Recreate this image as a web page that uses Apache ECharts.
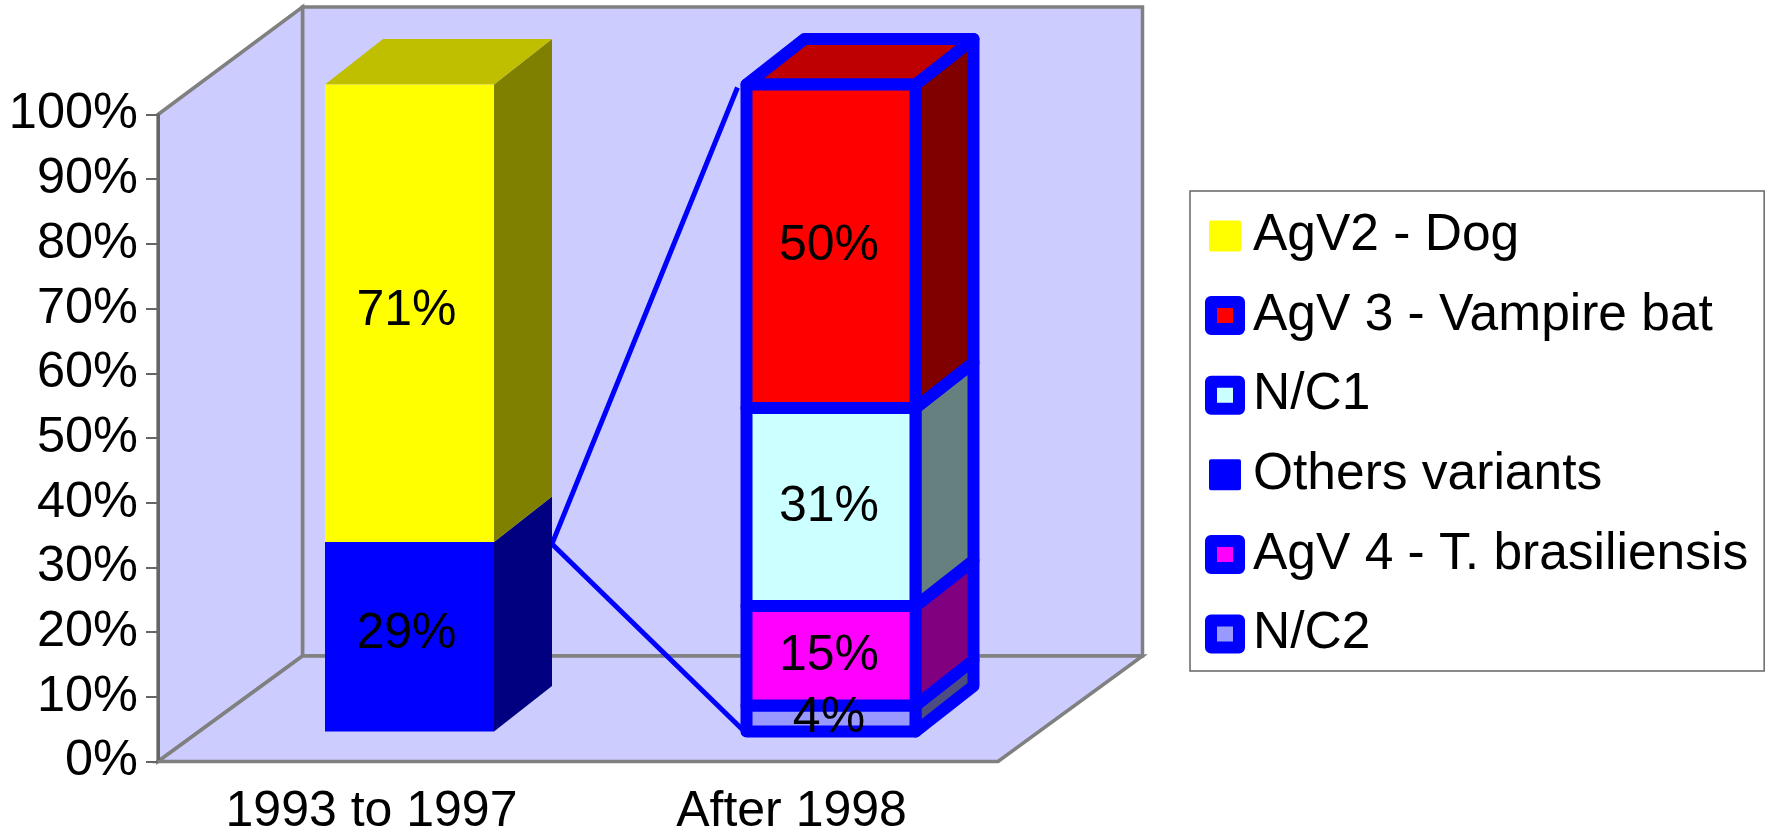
<!DOCTYPE html>
<html><head><meta charset="utf-8">
<style>html,body{margin:0;padding:0;background:#fff}#c{width:1770px;height:838px}</style>
<script src="https://cdn.jsdelivr.net/npm/echarts@6/dist/echarts.min.js"></script>
</head><body><div id="c"></div>
<script>
const categories = ['1993 to 1997', 'After 1998'];
const legendOrder = ['AgV2 - Dog', 'AgV 3 - Vampire bat', 'N/C1', 'Others variants', 'AgV 4 - T. brasiliensis', 'N/C2'];
const others = [29.3, 0];
const agv2 = [70.7, 0];
const nc2 = [0, 4];
const agv4 = [0, 15.4];
const nc1 = [0, 30.6];
const agv3 = [0, 50];

// drawn bottom-up
const stack = [
  {name:'Others variants', values:others, front:'#0000FF', side:'#000080', top:'#0000BF', border:null},
  {name:'N/C2', values:nc2, front:'#9999FF', side:'#4D4D80', top:'#7373BF', border:'#0000FF'},
  {name:'AgV 4 - T. brasiliensis', values:agv4, front:'#FF00FF', side:'#800080', top:'#BF00BF', border:'#0000FF'},
  {name:'N/C1', values:nc1, front:'#CCFFFF', side:'#668080', top:'#99BFBF', border:'#0000FF'},
  {name:'AgV2 - Dog', values:agv2, front:'#FFFF00', side:'#808000', top:'#BFBF00', border:null},
  {name:'AgV 3 - Vampire bat', values:agv3, front:'#FF0000', side:'#800000', top:'#BF0000', border:'#0000FF'}
];
const FONT = '"Liberation Sans", Arial, sans-serif';
const DEPTH = [144.5, -105.5];      // chart box depth
const BAR_DEPTH = [58, -45.5];      // bar depth
const BAR_W = 169, BAR_DX = [41.5, 43], BAR_DY = -30;
const LABEL_DX = [-3, -2];

function tops(cat){ let s=0; return stack.map(d=>{ s+=d.values[cat]; return s; }); }

const wallSeries = {
  type:'custom', name:'walls', coordinateSystem:'cartesian2d', z:1, silent:true, clip:false,
  data:[[0,0]],
  renderItem(params){
    const r = params.coordSys, l=r.x, t=r.y, b=r.y+r.height, rr=r.x+r.width, dx=DEPTH[0], dy=DEPTH[1];
    const st = {fill:'#CCCCFF', stroke:'#808080', lineWidth:3.5, lineJoin:'miter'};
    const poly = pts => ({type:'polygon', shape:{points:pts}, style:st});
    return {type:'group', children:[
      poly([[l+dx,t+dy-2],[rr+dx,t+dy-2],[rr+dx,b+dy],[l+dx,b+dy]]),
      poly([[l,t],[l+dx,t+dy-2],[l+dx,b+dy],[l,b]]),
      poly([[l,b],[l+dx,b+dy],[rr+dx,b+dy],[rr,b]])
    ]};
  }
};

const connectorSeries = {
  type:'custom', name:'connector', coordinateSystem:'cartesian2d', z:2, silent:true, clip:false,
  data:[[0, others[0], 1, 100],[0, others[0], 1, 0]],
  renderItem(params, api){
    const a = api.coord([api.value(0), api.value(1)]);
    const c = api.coord([api.value(2), api.value(3)]);
    const upper = api.value(3) > 0;
    return {type:'line', z2:1, shape:{
      x1:a[0]+BAR_DX[0]+BAR_W/2+BAR_DEPTH[0], y1:a[1]+BAR_DY+2,
      x2:c[0]+BAR_DX[1]-BAR_W/2-(upper?9:0), y2:c[1]+BAR_DY+(upper?3:2)},
      style:{stroke:'#0000FF', lineWidth:5}};
  }
};

const barSeries = stack.map((d, si) => ({
  type:'custom', name:d.name, coordinateSystem:'cartesian2d', z:3, clip:false,
  itemStyle:{color:d.front},
  data: categories.map((c,i)=>[i, tops(i)[si]-d.values[i], tops(i)[si], d.values[i]]),
  renderItem(params, api){
    const v = api.value(3); if(!v) return null;
    const i = api.value(0);
    const p0 = api.coord([i, api.value(1)]), p1 = api.coord([i, api.value(2)]);
    const x0 = p0[0]+BAR_DX[i]-BAR_W/2, x1 = x0+BAR_W, yb = p0[1]+BAR_DY, yt = p1[1]+BAR_DY;
    const dx=BAR_DEPTH[0], dy=BAR_DEPTH[1];
    const isTop = Math.abs(api.value(2)-100)<1e-6;
    const bs = d.border ? {stroke:d.border, lineWidth:12, lineJoin:'round'} : {lineWidth:0};
    const kids = [];
    kids.push({type:'polygon', z2:si*3+1, shape:{points:[[x1,yb],[x1+dx,yb+dy],[x1+dx,yt+dy],[x1,yt]]}, style:Object.assign({fill:d.side},bs)});
    if(isTop) kids.push({type:'polygon', z2:si*3+1, shape:{points:[[x0,yt],[x0+dx,yt+dy],[x1+dx,yt+dy],[x1,yt]]}, style:Object.assign({fill:d.top},bs)});
    kids.push({type:'polygon', z2:si*3+2, shape:{points:[[x0,yb],[x1,yb],[x1,yt],[x0,yt]]}, style:Object.assign({fill:d.front},bs)});
    kids.push({type:'text', z2:200, style:{text:Math.round(v)+'%', x:(x0+x1)/2+LABEL_DX[i], y:(yb+yt)/2-(d.border?0:2), align:'center', verticalAlign:'middle', font:'50px '+FONT, fill:'#000'}});
    return {type:'group', children:kids};
  }
}));

function legendItem(name){
  const d = stack.find(s=>s.name===name);
  return {name, itemStyle:{color:d.front, borderColor:d.border||d.front, borderWidth:d.border?12:4, borderJoin:'round'}};
}

const chart = echarts.init(document.getElementById('c'), null, {renderer:'canvas'});
chart.setOption({
  animation:false, backgroundColor:'#fff', tooltip:{show:false},
  grid:{left:158, top:114.5, width:840, height:647, containLabel:false},
  xAxis:{type:'category', data:categories, z:5,
    axisLine:{lineStyle:{color:'#808080', width:3}}, axisTick:{length:13, lineStyle:{color:'#666', width:2}},
    axisLabel:{fontSize:50, fontFamily:FONT, color:'#000', margin:26, padding:[0,0,0,7]}, splitLine:{show:false}},
  yAxis:{type:'value', min:0, max:100, interval:10, z:5,
    axisLine:{show:true, lineStyle:{color:'#666', width:3}}, axisTick:{show:true, length:12, lineStyle:{color:'#666', width:2}},
    axisLabel:{fontSize:50.5, fontFamily:FONT, color:'#000', margin:20, padding:[5,0,0,0], formatter:'{value}%'}, splitLine:{show:false}},
  legend:{orient:'vertical', left:1190, top:191, data:legendOrder.map(legendItem), selectedMode:false, icon:'rect',
    itemWidth:28, itemHeight:27, itemGap:19.6, backgroundColor:'#fff', borderColor:'#666', borderWidth:1.5,
    padding:[15,16,7,15], textStyle:{fontSize:51.5, fontFamily:FONT, color:'#000', lineHeight:60, padding:[0,0,0,9]}},
  series:[wallSeries, connectorSeries].concat(barSeries)
});
</script></body></html>
